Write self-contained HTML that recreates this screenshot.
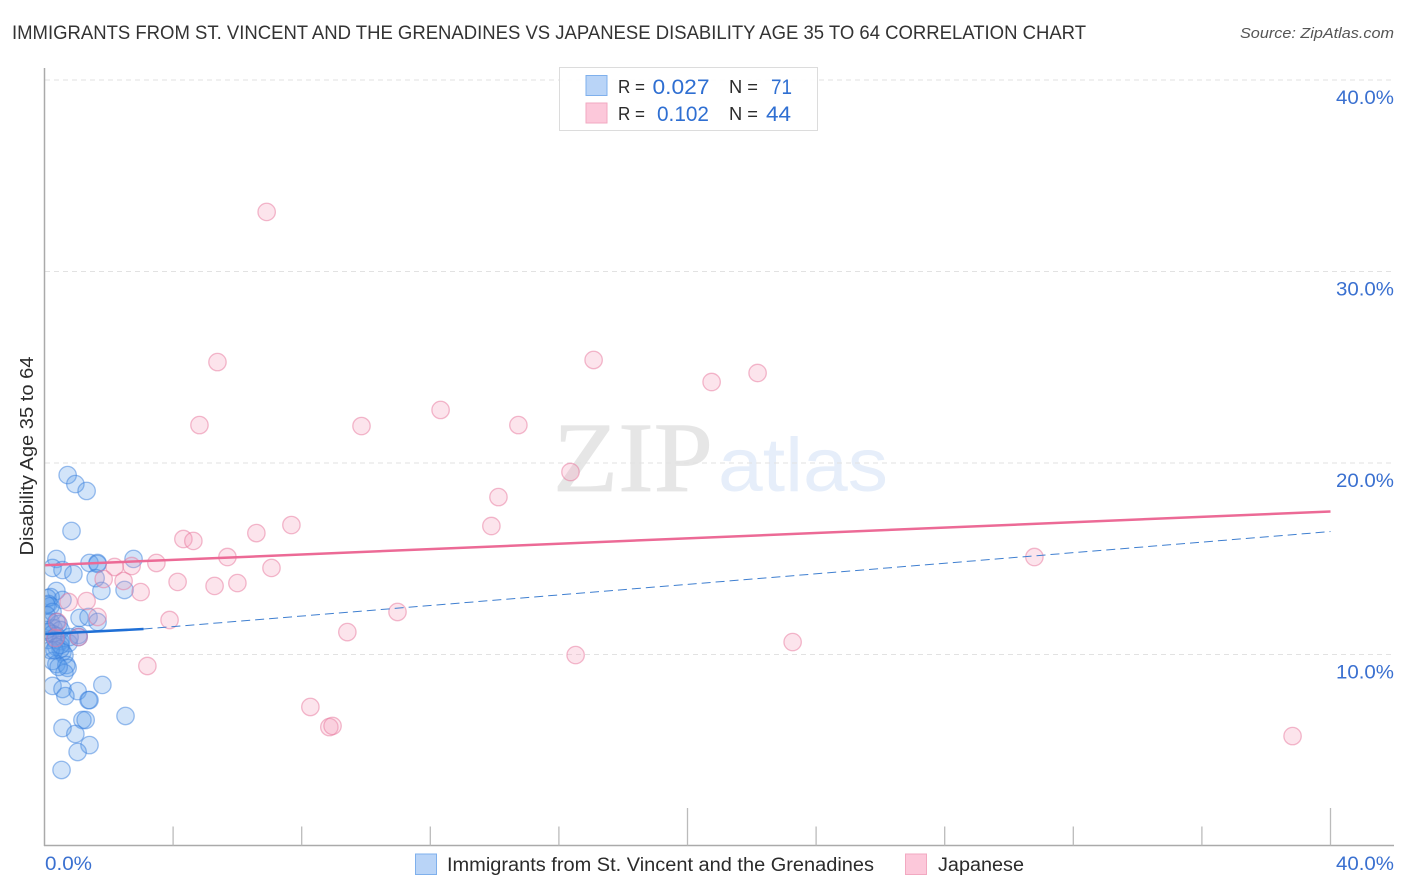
<!DOCTYPE html>
<html lang="en">
<head>
<meta charset="utf-8">
<title>Correlation chart</title>
<style>
html,body{margin:0;padding:0;background:#fff;}
svg{display:block;font-family:"Liberation Sans",sans-serif;}
</style>
</head>
<body>
<svg id="chart" width="1406" height="892" viewBox="0 0 1406 892" xmlns="http://www.w3.org/2000/svg">
  <defs>
    <clipPath id="plot-clip"><rect x="45" y="60" width="1349" height="786"></rect></clipPath>
  </defs>
  <text x="12" y="39" font-size="19.5" fill="#333" textLength="1074" lengthAdjust="spacingAndGlyphs">IMMIGRANTS FROM ST. VINCENT AND THE GRENADINES VS JAPANESE DISABILITY AGE 35 TO 64 CORRELATION CHART</text>
  <text x="1394" y="38" font-size="15" font-style="italic" fill="#555" text-anchor="end" textLength="154" lengthAdjust="spacingAndGlyphs">Source: ZipAtlas.com</text>
  <g id="watermark">
    <text x="553" y="491" font-family="'Liberation Serif',serif" font-size="100" fill="#e6e6e6" stroke="#e6e6e6" stroke-width="0.8" textLength="160" lengthAdjust="spacingAndGlyphs">ZIP</text>
    <text x="718" y="491" font-size="76" fill="#e6eefa" textLength="170" lengthAdjust="spacingAndGlyphs">atlas</text>
  </g>
  <g id="grid"></g>
  <g id="marks" clip-path="url(#plot-clip)"></g>
  <g id="trends"></g>
  <g id="axes"></g>
  <text transform="translate(33,456) rotate(-90)" font-size="18" fill="#2b2b2b" text-anchor="middle" textLength="199" lengthAdjust="spacingAndGlyphs">Disability Age 35 to 64</text>

  <g>
    <rect x="559.5" y="67.5" width="258" height="63" fill="#fff" fill-opacity="0.9" stroke="#dcdcdc" stroke-width="1"></rect>
    <rect x="586" y="75.5" width="21" height="20" fill="#b9d4f7" stroke="#7fb0ec" stroke-width="1"></rect>
    <rect x="586" y="103" width="21" height="20" fill="#fcc8da" stroke="#f2a9c1" stroke-width="1"></rect>
    <text x="618" y="93" font-size="18.5" fill="#2b2b2b" textLength="27" lengthAdjust="spacingAndGlyphs">R =</text>
    <text x="652.5" y="94" font-size="21" fill="#2f6fd2" textLength="57" lengthAdjust="spacingAndGlyphs">0.027</text>
    <text x="729" y="93" font-size="18.5" fill="#2b2b2b" textLength="29" lengthAdjust="spacingAndGlyphs">N =</text>
    <text x="771" y="94" font-size="21" fill="#2f6fd2" textLength="21" lengthAdjust="spacingAndGlyphs">71</text>
    <text x="618" y="120" font-size="18.5" fill="#2b2b2b" textLength="27" lengthAdjust="spacingAndGlyphs">R =</text>
    <text x="657" y="121" font-size="21" fill="#2f6fd2" textLength="52" lengthAdjust="spacingAndGlyphs">0.102</text>
    <text x="729" y="120" font-size="18.5" fill="#2b2b2b" textLength="29" lengthAdjust="spacingAndGlyphs">N =</text>
    <text x="766" y="121" font-size="21" fill="#2f6fd2" textLength="25" lengthAdjust="spacingAndGlyphs">44</text>
  </g>

  <g>
    <rect x="415.5" y="854" width="21" height="20.5" fill="#b9d4f7" stroke="#7fb0ec" stroke-width="1"></rect>
    <text x="447" y="871" font-size="19" fill="#2b2b2b" textLength="427" lengthAdjust="spacingAndGlyphs">Immigrants from St. Vincent and the Grenadines</text>
    <rect x="905.5" y="854" width="21" height="20.5" fill="#fcc8da" stroke="#f2a9c1" stroke-width="1"></rect>
    <text x="938" y="871" font-size="19" fill="#2b2b2b" textLength="86" lengthAdjust="spacingAndGlyphs">Japanese</text>
  </g>
</svg>
<script>
// ---- Data (percent units) ----
const blueX = [0.72,0.96,1.31,0.84,0.37,0.25,0.56,0.90,1.40,1.65,1.65,2.77,1.59,1.77,2.49,0.37,0.56,0.19,0.09,0.12,0.19,0.06,0.25,1.09,1.37,1.65,0.19,0.37,0.28,0.44,0.50,0.12,0.25,0.37,1.06,0.12,0.34,0.50,0.75,0.37,0.56,0.62,0.50,0.25,0.37,0.68,0.72,0.62,0.44,0.19,1.06,1.80,0.25,0.56,1.03,0.65,1.37,1.40,2.52,1.18,1.28,0.56,0.96,1.40,1.03,0.53,0.06,0.31,0.50,0.06,0.78];
const blueY = [19.37,18.90,18.54,16.45,14.99,14.52,14.41,14.20,14.78,14.78,14.73,14.99,13.99,13.32,13.37,13.32,12.85,13.00,12.95,12.64,12.53,12.58,12.22,11.91,11.96,11.70,11.70,11.70,11.38,11.59,11.28,11.17,11.07,10.97,11.02,10.76,10.76,10.70,10.60,10.39,10.13,9.97,10.29,9.66,9.50,9.45,9.30,9.03,9.35,10.23,10.91,8.41,8.36,8.20,8.09,7.83,7.62,7.62,6.79,6.58,6.58,6.16,5.85,5.27,4.91,3.97,12.06,10.23,10.50,11.28,10.91];
const pinkX = [6.91,5.38,4.82,9.86,12.32,14.74,17.08,20.75,22.18,16.36,14.12,13.90,7.68,6.59,4.32,4.63,5.69,3.48,2.71,2.18,7.06,4.14,5.29,6.00,2.46,1.84,2.99,1.31,0.75,1.65,3.89,10.98,9.42,3.20,8.27,8.86,8.96,16.52,23.27,30.79,38.82,1.06,0.40,0.34];
const pinkY = [33.11,25.27,21.98,21.93,22.77,21.98,25.38,24.23,24.70,19.53,18.22,16.71,16.76,16.34,16.03,15.93,15.09,14.78,14.62,14.57,14.52,13.79,13.58,13.73,13.84,13.94,13.26,12.79,12.74,11.96,11.80,12.22,11.17,9.40,7.26,6.21,6.27,9.97,10.65,15.09,5.74,10.91,11.70,10.86];
const pinkTrendX = [0, 40];
const pinkTrendY = [14.66, 17.47];
const blueSolidTrendX = [0, 3.08];
const blueSolidTrendY = [11.07, 11.33];
const blueDashTrendX = [3.08, 40];
const blueDashTrendY = [11.33, 16.42];
const xTickValues = [0,4,8,12,16,20,24,28,32,36,40];
const xMajorTicks = [20,40];
const xTickLabels = ["0.0%","40.0%"];
const xLabelValues = [0,40];
const yTickValues = [10,20,30,40];
const yTickLabels = ["10.0%","20.0%","30.0%","40.0%"];

// ---- Axis functions ----
const sx = v => 44.5 + v * 32.15;
const sy = v => 846 - v * 19.15;
const NS = 'http://www.w3.org/2000/svg';
function mk(tag, parent, attrs) {
  const el = document.createElementNS(NS, tag);
  for (const k in attrs) el.setAttribute(k, attrs[k]);
  parent.appendChild(el);
  return el;
}
const grid = document.getElementById('grid');
const marks = document.getElementById('marks');
const trends = document.getElementById('trends');
const axes = document.getElementById('axes');

// Gridlines and y labels
yTickValues.forEach((v, i) => {
  const line = mk('line', grid, {x1:45, x2:1394, y1:sy(v), y2:sy(v), stroke:'#e2e2e2', 'stroke-width':1, 'stroke-dasharray':'5 4'});
  
  
  const t = mk('text', axes, {x:1394, y:sy(v)+24, 'font-size':19.5, fill:'#3a70d0', 'text-anchor':'end', textLength:58, lengthAdjust:'spacingAndGlyphs'});
  
  
  t.textContent = yTickLabels[i];
});

// Points
function drawPoints(xs, ys, fill, stroke, name) {
  xs.forEach((x, i) => {
    const c = mk('circle', marks, {cx:sx(x), cy:sy(ys[i]), r:8.7, fill:fill, 'fill-opacity':0.27, stroke:stroke, 'stroke-opacity':0.5, 'stroke-width':1.3});
    
    
  });
}
drawPoints(blueX, blueY, '#5a9bea', '#3a80de', 'point-immigrants');
drawPoints(pinkX, pinkY, '#f59cb9', '#e8769c', 'point-japanese');

// Trend lines
const ld = mk('line', trends, {x1:sx(blueDashTrendX[0]), y1:sy(blueDashTrendY[0]), x2:sx(blueDashTrendX[1]), y2:sy(blueDashTrendY[1]), stroke:'#3f7fd0', 'stroke-width':1, 'stroke-dasharray':'9 5'});


const ls = mk('line', trends, {x1:sx(blueSolidTrendX[0]), y1:sy(blueSolidTrendY[0]), x2:sx(blueSolidTrendX[1]), y2:sy(blueSolidTrendY[1]), stroke:'#1f6fd6', 'stroke-width':2.5});


const lp = mk('line', trends, {x1:sx(pinkTrendX[0]), y1:sy(pinkTrendY[0]), x2:sx(pinkTrendX[1]), y2:sy(pinkTrendY[1]), stroke:'#ec6a96', 'stroke-width':2.5});



// Axes
const yAxis = mk('line', axes, {x1:44.5, x2:44.5, y1:68, y2:846, stroke:'#aaa', 'stroke-width':1.5});


const xAxis = mk('line', axes, {x1:44, x2:1394, y1:845.5, y2:845.5, stroke:'#aaa', 'stroke-width':1.5});


xTickValues.forEach(v => {
  if (v === 0) return;
  const top = xMajorTicks.includes(v) ? 808 : 826.5;
  const tick = mk('line', axes, {x1:sx(v), x2:sx(v), y1:top, y2:845.5, stroke:'#bbb', 'stroke-width':1.3});
  
  
});
xLabelValues.forEach((v, i) => {
  const attrs = v === 0
    ? {x:45, y:870, 'font-size':19.5, fill:'#3a70d0', textLength:47, lengthAdjust:'spacingAndGlyphs'}
    : {x:1394, y:870, 'font-size':19.5, fill:'#3a70d0', 'text-anchor':'end', textLength:58, lengthAdjust:'spacingAndGlyphs'};
  const t = mk('text', axes, attrs);
  
  
  t.textContent = xTickLabels[i];
});
</script>
</body>
</html>
